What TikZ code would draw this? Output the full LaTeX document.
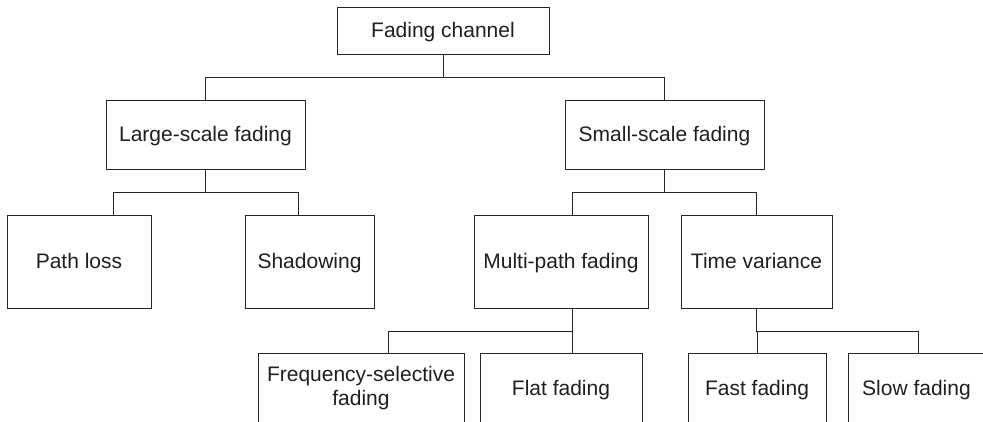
\documentclass[tikz,border=0pt]{standalone}
\usepackage{fontspec}
\setmainfont{Liberation Sans}
\begin{document}
\begin{tikzpicture}[x=1pt,y=-1pt,
  box/.style={draw=black!85, line width=1pt, inner sep=0pt, align=center,
    text=black!88, font=\fontsize{21}{24.3}\selectfont},
  one/.style={box, text height=14.5pt, text depth=0pt},
  conn/.style={draw=black!85, line width=1pt}]
\useasboundingbox (0,0) rectangle (983,421);
\clip (0,0) rectangle (983,421);
% level 0
\node[one, minimum width=212pt, minimum height=47pt] (fc) at (443,30.5) {Fading channel};
% level 1
\node[one, minimum width=199pt, minimum height=69pt] (ls) at (205.5,134.5) {Large-scale fading};
\node[one, minimum width=199pt, minimum height=69pt] (ss) at (664.5,134.5) {Small-scale fading};
% level 2
\node[one, minimum width=144pt, minimum height=93pt] (pl) at (79,261.5) {Path loss};
\node[one, minimum width=129pt, minimum height=93pt] (sh) at (309.5,261.5) {Shadowing};
\node[one, minimum width=174pt, minimum height=93pt] (mp) at (561,261.5) {Multi-path fading};
\node[one, minimum width=151pt, minimum height=93pt] (tv) at (756.5,261.5) {Time variance};
% level 3
\node[box, minimum width=206pt, minimum height=70pt] (fs) at (361,388) {Frequency-selective\\fading};
\node[one, minimum width=162pt, minimum height=70pt] (ff) at (561,388.5) {Flat fading};
\node[one, minimum width=138pt, minimum height=70pt] (fa) at (757,388.5) {Fast fading};
\node[one, minimum width=137pt, minimum height=70pt] (sl) at (916.5,388.5) {Slow fading};
% connectors
\draw[conn] (fc.south) -- ++(0,23) coordinate (j1);
\draw[conn] (ls.north) |- (j1) -| (ss.north);
\draw[conn] (ls.south) -- ++(0,23) coordinate (j2);
\draw[conn] ([xshift=34pt]pl.north) |- (j2) -| ([xshift=-11.5pt]sh.north);
\draw[conn] (ss.south) -- ++(0,23) coordinate (j3);
\draw[conn] ([xshift=11pt]mp.north) |- (j3) -| (tv.north);
\draw[conn] ([xshift=11pt]mp.south) -- ++(0,23) coordinate (j4);
\draw[conn] ([xshift=27pt]fs.north) |- (j4) -| ([xshift=11pt]ff.north);
\draw[conn] (tv.south) -- ++(0,23) coordinate (j5);
\draw[conn] (fa.north) |- (j5) -| ([xshift=1.5pt]sl.north);
\end{tikzpicture}
\end{document}
